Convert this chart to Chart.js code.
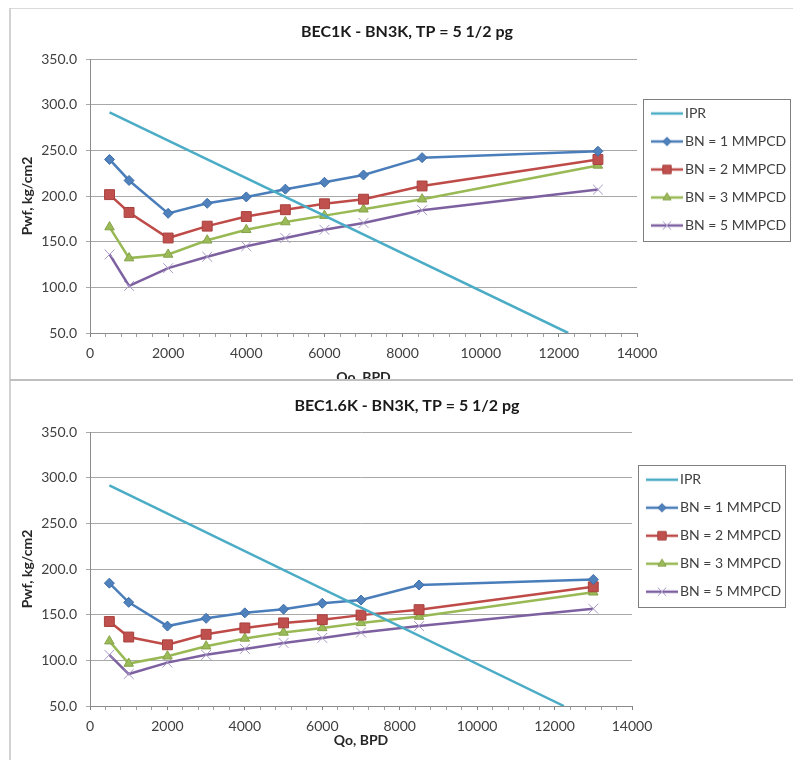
<!DOCTYPE html>
<html><head><meta charset="utf-8">
<script src="https://cdn.jsdelivr.net/npm/chart.js@4/dist/chart.umd.min.js"></script>
<style>
html,body{margin:0;padding:0;background:#fff;width:793px;height:760px;overflow:hidden;}
.clip{position:absolute;left:10px;width:783px;overflow:hidden;}
#clip1{top:8px;height:372px;}
#clip2{top:381px;height:379px;}
.wrap{position:relative;width:783px;}
#wrap1{height:392px;}
#wrap2{height:379px;}
.ln{position:absolute;}
</style></head><body>
<div id="clip1" class="clip"><div id="wrap1" class="wrap"><canvas id="c1"></canvas></div></div>
<div id="clip2" class="clip"><div id="wrap2" class="wrap"><canvas id="c2"></canvas></div></div>
<div class="ln" style="left:10px;top:8px;width:783px;height:1px;background:#dadada"></div>
<div class="ln" style="left:9px;top:8px;width:2px;height:752px;background:#d2d2d2"></div>
<div class="ln" style="left:10px;top:379px;width:783px;height:2px;background:#bfbfbf"></div>
<script>
// ---- data ----
const qo = [500, 1000, 2000, 3000, 4000, 5000, 6000, 7000, 8500, 13000];
const iprQo = [500, 12240];
const iprPwf = [291.5, 50];
const seriesNames = ['IPR', 'BN = 1 MMPCD', 'BN = 2 MMPCD', 'BN = 3 MMPCD', 'BN = 5 MMPCD'];

const titleTop = 'BEC1K - BN3K, TP = 5 1/2 pg';
const top_bn1 = [240, 217, 181, 192, 199, 207.5, 215, 223, 242, 249];
const top_bn2 = [201.5, 182, 154, 167, 177.5, 185, 191.5, 196.5, 211, 240];
const top_bn3 = [166, 132, 136, 151.5, 163, 171.5, 178.5, 185.5, 196.5, 233.5];
const top_bn5 = [136, 101.5, 121, 133.5, 145, 154, 163, 170.5, 184.5, 207];

const titleBottom = 'BEC1.6K - BN3K, TP = 5 1/2 pg';
const bot_bn1 = [184.5, 163.5, 137.5, 146, 152, 156, 162.5, 166, 182.5, 188.5];
const bot_bn2 = [142.5, 125.5, 117, 128.5, 135.5, 141, 144.5, 149.5, 155.5, 180.5];
const bot_bn3 = [121, 96.5, 104.5, 115.5, 124, 130.5, 135.5, 141, 148, 174.5];
const bot_bn5 = [106, 85, 97.5, 106, 112.5, 119, 124.5, 130.5, 137.5, 156.5];

const xTitle = 'Qo, BPD';
const yTitle = 'Pwf, kg/cm2';
const xMin = 0, xMax = 14000, xMajor = 2000, xMinor = 400;
const yMin = 50, yMax = 350, yStep = 50;

// ---- styles ----
const FONT = 'Lato, "Open Sans", "Liberation Sans", sans-serif';
Chart.defaults.font.family = FONT;
Chart.defaults.color = '#404040';
const styles = [
  {line: '#4BACC6'},
  {line: '#4A7EBB', fill: '#4F81BD', border: '#3E6DA6', shape: 'rectRot', r: 5},
  {line: '#BE4B48', fill: '#C0504D', border: '#A8423F', shape: 'rect', r: 7},
  {line: '#98B954', fill: '#9BBB59', border: '#86A24A', shape: 'triangle', r: 5.5},
  {line: '#7D60A0', fill: 'rgba(0,0,0,0)', border: '#A898C6', shape: 'crossRot', r: 7}
];

function drawMarker(g, st, x, y, r) {
  g.save();
  g.lineWidth = 1; g.fillStyle = st.fill; g.strokeStyle = st.border;
  g.beginPath();
  if (st.shape === 'rectRot') {
    g.moveTo(x - r, y); g.lineTo(x, y - r); g.lineTo(x + r, y); g.lineTo(x, y + r); g.closePath(); g.fill(); g.stroke();
  } else if (st.shape === 'rect') {
    const s = r * Math.SQRT1_2; g.rect(x - s, y - s, 2 * s, 2 * s); g.fill(); g.stroke();
  } else if (st.shape === 'triangle') {
    const a = 2 * Math.PI / 3;
    g.moveTo(x, y - r); g.lineTo(x + Math.sin(a) * r, y - Math.cos(a) * r); g.lineTo(x - Math.sin(a) * r, y - Math.cos(a) * r);
    g.closePath(); g.fill(); g.stroke();
  } else if (st.shape === 'crossRot') {
    const d = r * Math.SQRT1_2;
    g.moveTo(x - d, y - d); g.lineTo(x + d, y + d); g.moveTo(x - d, y + d); g.lineTo(x + d, y - d); g.stroke();
  }
  g.restore();
}
function makeIcon(st) {
  const c = document.createElement('canvas'); c.width = 32; c.height = 14;
  const g = c.getContext('2d');
  g.strokeStyle = st.line; g.lineWidth = 2.5;
  g.beginPath(); g.moveTo(0, 7); g.lineTo(32, 7); g.stroke();
  if (st.shape) drawMarker(g, st, 16, 7, st.r * 0.85);
  return c;
}
const icons = styles.map(makeIcon);

const legendFrame = {
  id: 'legendFrame',
  afterLayout(chart, args, o) {
    const lg = chart.legend, ca = chart.chartArea;
    if (lg) {
      const w = lg.width, h = lg.height;
      lg.left = ca.right + o.dx; lg.right = lg.left + w;
      lg.top = ca.top + o.dy; lg.bottom = lg.top + h;
    }
    const tb = chart.titleBlock;
    if (tb) {
      // centre the chart title on the whole chart frame, like the original
      tb.left = 2 * o.titleCenter - chart.width; tb.right = chart.width;
    }
  },
  afterDraw(chart) {
    const hb = chart.legend && chart.legend.legendHitBoxes;
    if (!hb || !hb.length) return;
    const l = Math.min(...hb.map(b => b.left)) - 13;
    const r = Math.max(...hb.map(b => b.left + b.width)) + 4;
    const t = hb[0].top - 7.5;
    const b = hb[hb.length - 1].top + 22;
    const ctx = chart.ctx;
    ctx.save();
    ctx.strokeStyle = '#7f7f7f'; ctx.lineWidth = 1;
    ctx.strokeRect(Math.round(l) + 0.5, Math.round(t) + 0.5, Math.round(r - l), Math.round(b - t));
    ctx.restore();
  }
};

function makeChart(id, title, series, cfg) {
  const datasets = [{
    label: seriesNames[0],
    data: iprQo.map((x, i) => ({x, y: iprPwf[i]})),
    borderColor: styles[0].line, backgroundColor: styles[0].line,
    borderWidth: 2.5, pointRadius: 0, showLine: true
  }];
  series.forEach((vals, k) => {
    const st = styles[k + 1];
    datasets.push({
      label: seriesNames[k + 1],
      data: qo.map((x, i) => ({x, y: vals[i]})),
      borderColor: st.line, backgroundColor: st.fill,
      borderWidth: 2.5, showLine: true,
      pointStyle: st.shape, pointRadius: st.r, pointBorderColor: st.border,
      pointBackgroundColor: st.fill, pointBorderWidth: 1
    });
  });
  const titleLH = 16 * 1.2;
  return new Chart(document.getElementById(id), {
    type: 'scatter',
    data: {datasets},
    plugins: [legendFrame],
    options: {
      responsive: true, maintainAspectRatio: false, animation: false,
      layout: {padding: {left: 0, right: cfg.padRight, top: 0, bottom: 0}},
      plugins: {
        tooltip: {enabled: false},
        title: {display: true, text: title, color: '#1a1a1a',
          font: {size: 16, weight: 'bold'}, padding: {top: cfg.titleTop, bottom: 51 - titleLH - cfg.titleTop}},
        legend: {
          display: true, position: 'chartArea', align: 'start',
          labels: {
            usePointStyle: true, pointStyleWidth: 22, padding: 14,
            font: {size: 14}, color: '#404040',
            generateLabels(chart) {
              const items = Chart.defaults.plugins.legend.labels.generateLabels(chart);
              items.forEach((it, i) => { it.pointStyle = icons[i]; });
              return items;
            }
          }
        },
        legendFrame: {dx: 5, dy: cfg.legendDy, titleCenter: 397}
      },
      scales: {
        x: {
          type: 'linear', min: xMin, max: xMax,
          ticks: {stepSize: xMinor, autoSkip: false, maxRotation: 0, minRotation: 0, padding: 8,
            font: {size: 14}, color: '#404040',
            callback: v => (v % xMajor === 0 ? String(v) : '')},
          grid: {drawOnChartArea: false, drawTicks: true, tickLength: 4, tickWidth: 1,
            tickColor: c => (c.tick && c.tick.value % xMajor === 0 ? '#808080' : '#a0a0a0')},
          border: {display: true, color: '#8c8c8c', width: 1},
          title: {display: true, text: xTitle, color: '#262626', font: {size: 14, weight: 'bold'},
            padding: {top: 0, bottom: cfg.xTitlePad}},
          afterFit: s => { s.height = cfg.xHeight; }
        },
        y: {
          min: yMin, max: yMax,
          ticks: {stepSize: yStep, padding: 9, font: {size: 14}, color: '#404040',
            callback: v => Number(v).toFixed(1)},
          grid: {color: '#a8a8a8', lineWidth: 1, tickLength: 4, drawTicks: true},
          border: {display: true, color: '#8c8c8c', width: 1},
          title: {display: true, text: yTitle, color: '#262626', font: {size: 14, weight: 'bold'},
            padding: {top: 9, bottom: 0}},
          afterFit: s => { s.width = 80; }
        }
      }
    }
  });
}

makeChart('c1', titleTop, [top_bn1, top_bn2, top_bn3, top_bn5],
  {padRight: 156, titleTop: 14, legendDy: 33.5, xHeight: 67, xTitlePad: 14.6});
makeChart('c2', titleBottom, [bot_bn1, bot_bn2, bot_bn3, bot_bn5],
  {padRight: 161, titleTop: 15, legendDy: 26.7, xHeight: 54, xTitlePad: 11.6});
</script>
</body></html>
